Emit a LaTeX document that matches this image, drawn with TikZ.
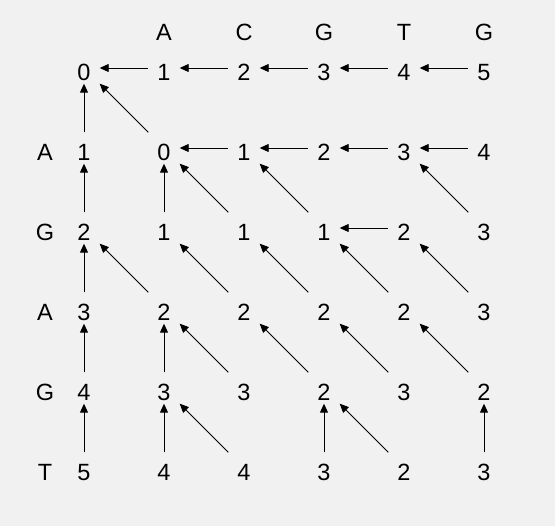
\documentclass[tikz,border=0pt]{standalone}
\usepackage{fontspec}
\setmainfont{Liberation Sans}
\usetikzlibrary{arrows.meta}
\definecolor{bg}{HTML}{F1F1F1}
\begin{document}
\begin{tikzpicture}[x=1pt,y=-1pt,
  cell/.style={minimum size=31pt, inner sep=0pt, text height=25pt, text depth=0pt, font=\fontsize{23.5}{27}\selectfont},
  lbl/.style={inner sep=0pt, font=\fontsize{23.5}{27}\selectfont},
  arr/.style={-{Triangle[length=9pt,width=8pt]}, line width=0.9pt, black}]
\fill[bg] (0,0) rectangle (555,526);
\useasboundingbox (0,0) rectangle (555,526);
% column headers
\foreach \l [count=\i from 1] in {A,C,G,T,G}
  \node[lbl] (h\i) at ({84+80*\i},32) {\l};
% row labels
\foreach \l [count=\i from 1] in {A,G,A,G,T}
  \node[lbl] (r\i) at (45,{72+80*\i}) {\l};
% cells
\foreach \row [count=\r from 0] in {{0,1,2,3,4,5},{1,0,1,2,3,4},{2,1,1,1,2,3},{3,2,2,2,2,3},{4,3,3,2,3,2},{5,4,4,3,2,3}}
  \foreach \v [count=\c from 0] in \row
    \node[cell] (n\r\c) at ({84+80*\c},{68+80*\r}) {\v};
% arrows
\foreach \a/\b in {01/00,02/01,03/02,04/03,05/04,
                   10/00,11/00,12/11,13/12,14/13,15/14,
                   20/10,21/11,22/11,23/12,24/23,25/14,
                   30/20,31/20,32/21,33/22,34/23,35/24,
                   40/30,41/31,42/31,43/32,44/33,45/34,
                   50/40,51/41,52/41,53/43,54/43,55/45}
  \draw[arr] (n\a) -- (n\b);
\end{tikzpicture}
\end{document}
